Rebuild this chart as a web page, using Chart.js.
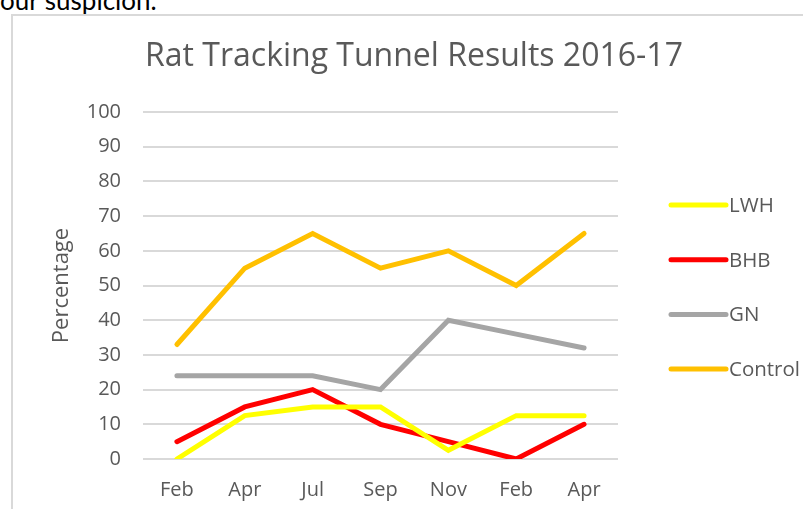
<!DOCTYPE html>
<html>
<head>
<meta charset="utf-8">
<script src="https://cdn.jsdelivr.net/npm/chart.js@4"></script>
<style>
  html, body { margin: 0; padding: 0; background: #fff; }
  #page { position: relative; width: 803px; height: 509px; overflow: hidden; }
  #above { position: absolute; left: 0; top: -13px; font: 26px/26px Lato, sans-serif; color: #000; }
  #frame { position: absolute; left: 11px; top: 14px; width: 820px; height: 520px; border: 2px solid #d9d9d9; box-sizing: border-box; }
  #c { position: absolute; left: 0; top: 0; }
</style>
</head>
<body>
<div id="page">
  <div id="above">our suspicion.</div>
  <div id="frame"></div>
  <canvas id="c" width="803" height="509"></canvas>
</div>
<script>
// survey months
var months = ['Feb', 'Apr', 'Jul', 'Sep', 'Nov', 'Feb', 'Apr'];
// tracking percentages per site
var lwh = [0, 12.5, 15, 15, 2.5, 12.5, 12.5];
var bhb = [5, 15, 20, 10, 5, 0, 10];
var gn = [24, 24, 24, 20, 40, 36, 32];
var control = [33, 55, 65, 55, 60, 50, 65];
var seriesNames = ['LWH', 'BHB', 'GN', 'Control'];
var colours = ['#FFFF00', '#FF0000', '#A5A5A5', '#FFC000'];

var textGrey = '#595959';
var font = '"Open Sans", Lato, sans-serif';

// title + legend drawn by hand so they land where the original had them
var extras = {
  id: 'extras',
  afterDraw: function (chart) {
    var ctx = chart.ctx;
    ctx.save();
    ctx.fillStyle = textGrey;
    ctx.font = '32px ' + font;
    ctx.textAlign = 'center';
    ctx.textBaseline = 'middle';
    ctx.fillText('Rat Tracking Tunnel Results 2016-17', 414, 57);

    ctx.font = '20.5px ' + font;
    ctx.textAlign = 'left';
    chart.data.datasets.forEach(function (ds, i) {
      var y = 205 + i * 54.7;
      ctx.strokeStyle = ds.borderColor;
      ctx.lineWidth = 5;
      ctx.lineCap = 'round';
      ctx.beginPath();
      ctx.moveTo(671, y);
      ctx.lineTo(726, y);
      ctx.stroke();
      ctx.fillText(ds.label, 729, y + 1);
    });
    ctx.restore();
  }
};

var values = [lwh, bhb, gn, control];
var datasets = values.map(function (v, i) {
  return {
    label: seriesNames[i],
    data: v,
    borderColor: colours[i],
    backgroundColor: colours[i],
    borderWidth: 5,
    borderCapStyle: 'round',
    borderJoinStyle: 'miter',
    pointRadius: 0,
    tension: 0,
    fill: false
  };
});

new Chart(document.getElementById('c'), {
  type: 'line',
  data: { labels: months, datasets: datasets },
  plugins: [extras],
  options: {
    responsive: false,
    animation: false,
    layout: { padding: { top: 112, right: 185, left: 0, bottom: 0 } },
    plugins: {
      legend: { display: false },
      title: { display: false },
      tooltip: { enabled: false }
    },
    scales: {
      x: {
        offset: true,
        grid: { display: false, drawTicks: false },
        border: { display: false },
        ticks: { color: textGrey, font: { family: font, size: 20 }, padding: 19, maxRotation: 0 },
        afterFit: function (s) { s.height = 50; }
      },
      y: {
        min: 0,
        max: 100,
        grid: { color: '#d9d9d9', lineWidth: 2, drawTicks: false },
        border: { display: false },
        ticks: { stepSize: 10, color: textGrey, font: { family: font, size: 20 }, padding: 22 },
        title: { display: true, text: 'Percentage', color: textGrey, font: { family: font, size: 22 }, padding: { top: 49 } },
        afterFit: function (s) { s.width = 143; }
      }
    }
  }
});
</script>
</body>
</html>
